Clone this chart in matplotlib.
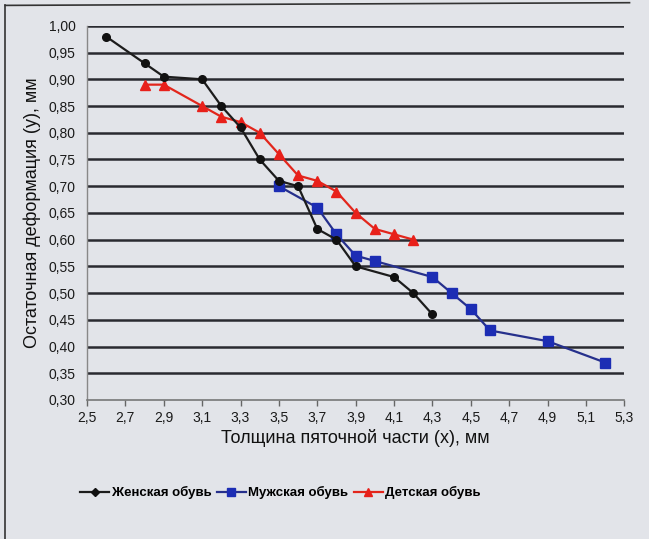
import matplotlib
matplotlib.use("Agg")
import matplotlib.pyplot as plt
from matplotlib.ticker import FuncFormatter
from matplotlib.lines import Line2D

plt.rcParams['font.family'] = ['Liberation Sans', 'DejaVu Sans']

# Data
women_x = [2.6, 2.8, 2.9, 3.1, 3.2, 3.3, 3.4, 3.5, 3.6, 3.7, 3.8, 3.9, 4.1, 4.2, 4.3]
women_y = [0.98, 0.93, 0.905, 0.90, 0.85, 0.81, 0.75, 0.71, 0.70, 0.62, 0.60, 0.55, 0.53, 0.50, 0.46]

men_x = [3.5, 3.7, 3.8, 3.9, 4.0, 4.3, 4.4, 4.5, 4.6, 4.9, 5.2]
men_y = [0.70, 0.66, 0.61, 0.57, 0.56, 0.53, 0.50, 0.47, 0.43, 0.41, 0.37]

kids_x = [2.8, 2.9, 3.1, 3.2, 3.3, 3.4, 3.5, 3.6, 3.7, 3.8, 3.9, 4.0, 4.1, 4.2]
kids_y = [0.89, 0.89, 0.85, 0.83, 0.82, 0.80, 0.76, 0.72, 0.71, 0.69, 0.65, 0.62, 0.61, 0.60]

series_names = ["Женская обувь", "Мужская обувь", "Детская обувь"]
x_ticks = [2.5, 2.7, 2.9, 3.1, 3.3, 3.5, 3.7, 3.9, 4.1, 4.3, 4.5, 4.7, 4.9, 5.1, 5.3]
y_ticks = [0.30, 0.35, 0.40, 0.45, 0.50, 0.55, 0.60, 0.65, 0.70, 0.75, 0.80, 0.85, 0.90, 0.95, 1.00]
x_label = "Толщина пяточной части (х), мм"
y_label = "Остаточная деформация (у), мм"

bg = '#e2e4e9'
fig = plt.figure(figsize=(6.49, 5.39), dpi=100, facecolor=bg)
ax = fig.add_axes([0.134, 0.258, 0.828, 0.694], facecolor=bg)

ax.set_xlim(2.5, 5.3)
ax.set_ylim(0.30, 1.00)

# horizontal gridlines
for v in y_ticks[1:]:
    ax.axhline(v, color='#2a2a30', lw=1.8, zorder=1)

ax.plot(women_x, women_y, color='#1c1c1c', lw=1.6, marker='o', ms=5.5,
        mfc='#111111', mec='#111111', zorder=4, label=series_names[0])
ax.plot(men_x, men_y, color='#26308c', lw=1.6, marker='s', ms=7,
        mfc='#1c2db4', mec='#1c2db4', zorder=3, label=series_names[1])
ax.plot(kids_x, kids_y, color='#e2261c', lw=1.6, marker='^', ms=7,
        mfc='#e8201a', mec='#e8201a', zorder=3, label=series_names[2])

ax.set_xticks(x_ticks)
ax.set_yticks(y_ticks)
ax.xaxis.set_major_formatter(FuncFormatter(lambda v, p: f"{v:.1f}".replace('.', ',')))
ax.yaxis.set_major_formatter(FuncFormatter(lambda v, p: f"{v:.2f}".replace('.', ',')))
ax.tick_params(axis='x', length=4, width=1, color='#666666', labelsize=10,
               labelcolor='#1a1a1a', pad=4)
ax.tick_params(axis='y', length=0, labelsize=10, labelcolor='#1a1a1a', pad=8)

for s in ['top', 'right']:
    ax.spines[s].set_visible(False)
ax.spines['left'].set_color('#888888')
ax.spines['bottom'].set_color('#777777')
ax.spines['left'].set_linewidth(1)
ax.spines['bottom'].set_linewidth(1.2)

ax.set_xlabel(x_label, fontsize=13, color='#111111', labelpad=3)
ax.set_ylabel(y_label, fontsize=13, color='#111111', labelpad=6)

legend_handles = [
    Line2D([], [], color='#1c1c1c', lw=1.6, marker='D', ms=4.5, mfc='#111111', mec='#111111'),
    Line2D([], [], color='#26308c', lw=1.6, marker='s', ms=5.5, mfc='#1c2db4', mec='#1c2db4'),
    Line2D([], [], color='#e2261c', lw=1.6, marker='^', ms=5.5, mfc='#e8201a', mec='#e8201a'),
]
fig.legend(legend_handles, series_names, loc='upper left', bbox_to_anchor=(0.105, 0.12),
           ncol=3, frameon=False, handlelength=2.2, handletextpad=0.2, columnspacing=0.4,
           prop={'size': 9.5, 'weight': 'bold'})

# page frame lines (top and left)
fig.add_artist(Line2D([0.008, 0.008], [0.0, 0.99], color='#333333', lw=1.2, transform=fig.transFigure))
fig.add_artist(Line2D([0.008, 0.97], [0.99, 0.995], color='#333333', lw=1.2, transform=fig.transFigure))

fig.savefig("out.png", dpi=100, facecolor=bg)
